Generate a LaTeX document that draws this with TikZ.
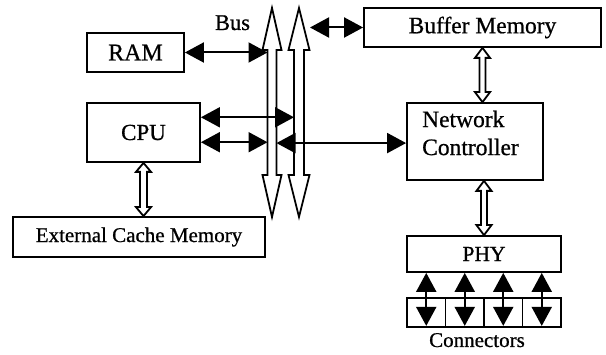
\documentclass[tikz,border=0pt]{standalone}
\usepackage{fontspec}
\setmainfont{Liberation Serif}[FakeBold=0.7]
\usetikzlibrary{arrows.meta,calc}
\tikzset{
 box/.style={draw, line width=1.8pt, inner sep=0pt},
 fs/.style={font=\fontsize{#1}{28}\selectfont},
 lbl/.style={inner sep=0pt},
 link/.style={line width=2pt, {Triangle[length=19pt,width=20pt]}-{Triangle[length=19pt,width=20pt]}},
 hollow/.style={draw, line width=1.8pt, fill=white, line join=miter},
}
\newcommand\hollowdbl[5]{\draw[hollow] let \p1=(#1), \p2=(#2) in
 (\x1,\y1) -- ({\x1+#4},{\y1-#5}) -- ({\x1+#3},{\y1-#5}) -- ({\x1+#3},{\y2+#5}) -- ({\x1+#4},{\y2+#5}) -- (\x1,\y2) -- ({\x1-#4},{\y2+#5}) -- ({\x1-#3},{\y2+#5}) -- ({\x1-#3},{\y1-#5}) -- ({\x1-#4},{\y1-#5}) -- cycle;}
\begin{document}
\begin{tikzpicture}[x=1pt,y=-1pt]
\useasboundingbox[fill=white] (0,0) rectangle (606,355);
% boxes
\node[box, fs=24, minimum width=97pt, minimum height=39pt] (ram) at (135.5,52.5) {RAM};
\node[box, fs=23, minimum width=113pt, minimum height=59pt] (cpu) at (143.5,132.5) {CPU};
\node[box, fs=21, minimum width=252pt, minimum height=40pt] (cache) at (139,237) {External Cache Memory};
\node[box, fs=23.5, minimum width=237pt, minimum height=39pt] (buf) at (482.5,27.5) {Buffer Memory};
\node[box, minimum width=136pt, minimum height=77pt] (nc) at (475,141.5) {};
\node[lbl, fs=23.5, anchor=west, align=left] (nctext) at (422,133) {Network\\Controller};
\node[box, fs=21.5, minimum width=154pt, minimum height=36pt] (phy) at (484,254) {PHY};
\node[box, minimum width=38.5pt, minimum height=29pt] (c1) at (426.25,312.5) {};
\node[box, minimum width=38.5pt, minimum height=29pt] (c2) at (464.75,312.5) {};
\node[box, minimum width=38.5pt, minimum height=29pt] (c3) at (503.25,312.5) {};
\node[box, minimum width=38.5pt, minimum height=29pt] (c4) at (541.75,312.5) {};
\node[lbl, fs=22.5, anchor=base] (bus) at (232.5,30) {Bus};
\node[lbl, fs=21, anchor=base] (conn) at (477,347) {Connectors};
% bus arrows
\draw[hollow] (272,8) -- (281.5,50) -- (276.5,50) -- (276.5,175) -- (281.5,175) -- (272,217) -- (262.5,175) -- (267.5,175) -- (267.5,50) -- (262.5,50) -- cycle;
\draw[hollow] (299,8) -- (309.5,50) -- (304,50) -- (304,175) -- (309.5,175) -- (299,217) -- (288.5,175) -- (294,175) -- (294,50) -- (288.5,50) -- cycle;
\coordinate (b1L) at (267.5,0);
\coordinate (b1R) at (276.5,0);
\coordinate (b2L) at (294,0);
\coordinate (b2tip) at (310,27.5);
% connectors
\coordinate (cpuA) at ($(cpu.north east)!0.25!(cpu.south east)$);
\coordinate (cpuB) at ($(cpu.north east)!0.66!(cpu.south east)$);
\coordinate (ncA) at ($(nc.north west)!0.52!(nc.south west)$);
\draw[link] (ram.east) -- (ram.east -| b1L);
\draw[link] (cpuA) -- (cpuA -| b2L);
\draw[link] (cpuB) -- (cpuB -| b1L);
\draw[link] (ncA -| b1R) -- (ncA);
\draw[link] (b2tip) -- (b2tip -| buf.west);
\foreach \c in {c1,c2,c3,c4}{
  \draw[link] (\c.center |- phy.south) -- ([yshift=2pt]\c.south);
}
% hollow double arrows
\hollowdbl{cpu.south}{cpu.south |- cache.north}{3.5pt}{7.5pt}{9pt}
\hollowdbl{buf.south}{buf.south |- nc.north}{3pt}{7.5pt}{10pt}
\hollowdbl{phy.north |- nc.south}{phy.north}{3pt}{7.5pt}{10pt}
\end{tikzpicture}
\end{document}
